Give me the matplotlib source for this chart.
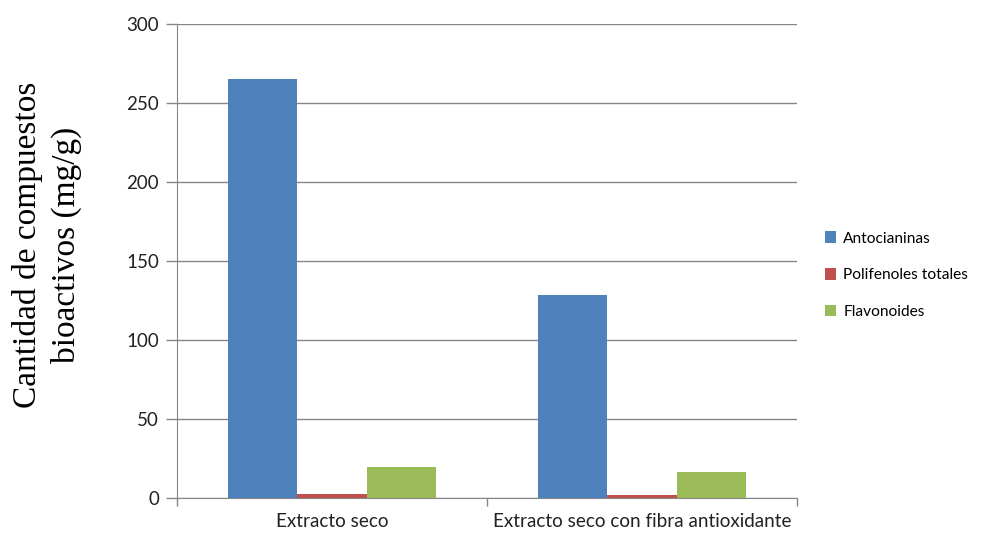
import matplotlib
matplotlib.use("Agg")
import matplotlib.pyplot as plt
import numpy as np

categories = ["Extracto seco", "Extracto seco con fibra antioxidante"]
series_names = ["Antocianinas", "Polifenoles totales", "Flavonoides"]
antocianinas = [265, 128.5]
polifenoles = [2.5, 2.0]
flavonoides = [19.6, 16.5]
y_ticks = [0, 50, 100, 150, 200, 250, 300]

colors = ["#4F81BD", "#C0504D", "#9BBB59"]
grid_color = "#868686"
label_color = "#222222"
sans = "Lato"

fig = plt.figure(figsize=(10, 5.34), dpi=100)
ax = fig.add_axes([0.177, 0.0674, 0.62, 0.8876])

values = [antocianinas, polifenoles, flavonoides]
x = np.arange(len(categories))
width = 0.2226
for i, (name, vals, c) in enumerate(zip(series_names, values, colors)):
    ax.bar(x + (i - 1) * width, vals, width, color=c, label=name, zorder=3)

ax.set_xlim(-0.5, 1.5)
ax.set_ylim(0, 300)
ax.set_yticks(y_ticks)
ax.yaxis.grid(True, color=grid_color, linewidth=1, zorder=0)
ax.set_axisbelow(True)

for s in ["top", "right"]:
    ax.spines[s].set_visible(False)
ax.spines["left"].set_color(grid_color)
ax.spines["bottom"].set_color(grid_color)

ax.tick_params(axis="y", length=8, color=grid_color, width=1,
               labelsize=13.5, labelcolor=label_color, pad=5)
ax.set_yticklabels([str(v) for v in y_ticks], family=sans)

# category ticks sit on the group boundaries
ax.set_xticks([-0.5, 0.5, 1.5])
ax.set_xticklabels([])
ax.tick_params(axis="x", length=6, color=grid_color, width=1)
for xi, lab in zip(x, categories):
    ax.text(xi, -0.032, lab, transform=ax.get_xaxis_transform(),
            ha="center", va="top", fontsize=13.6, family=sans,
            color=label_color)

fig.text(0.047, 0.541, "Cantidad de compuestos\nbioactivos (mg/g)",
         rotation=90, ha="center", va="center", multialignment="center",
         family="Liberation Serif", fontsize=24, linespacing=1.3,
         color="black")

ax.legend(loc="center left", bbox_to_anchor=(1.022, 0.47), frameon=False,
          prop={"family": sans, "size": 11.2}, handlelength=0.75,
          handleheight=0.75, handletextpad=0.45, labelspacing=1.45)

fig.savefig("out.png", dpi=100)
